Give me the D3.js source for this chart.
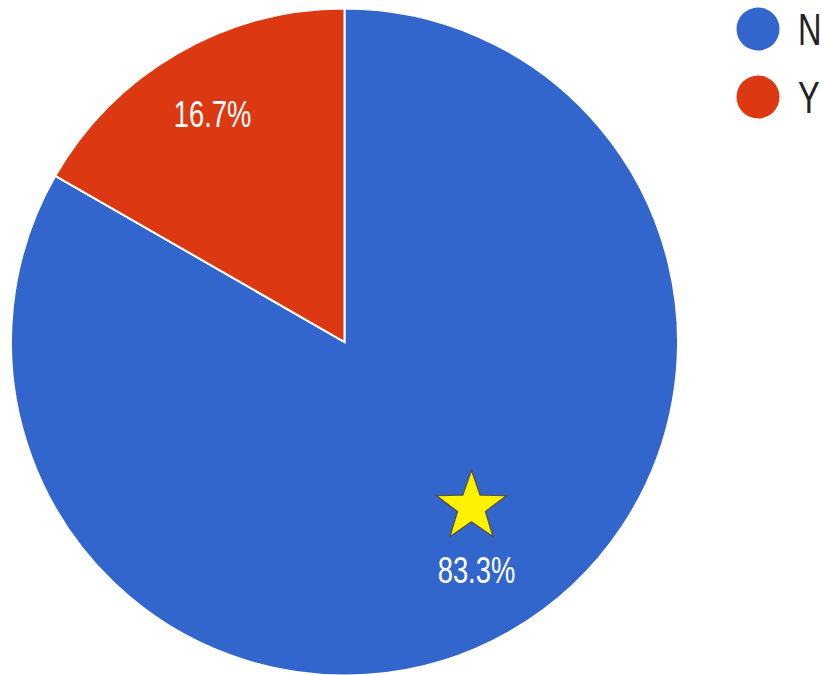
<!DOCTYPE html>
<html>
<head>
<meta charset="utf-8">
<script src="https://cdn.jsdelivr.net/npm/d3@7"></script>
<style>
  html, body { margin: 0; padding: 0; background: #fff; }
  svg { display: block; }
  text { font-family: "Liberation Sans", Arial, sans-serif; }
</style>
</head>
<body>
<svg id="chart" width="822" height="675"></svg>
<script>
// Answer categories and their shares (percent)
const categories = ["N", "Y"];
const values = [83.3, 16.7];
const colors = ["#3366CC", "#DC3912"];
// Slice that carries the star marker
const starredCategory = "N";

const cx = 344.5, cy = 342, radius = 333.5;
const labelRadius = radius * 0.79;
const squeeze = 0.74; // narrow text rendering

const svg = d3.select("#chart");

const data = categories.map((c, i) => ({ category: c, value: values[i] }));
const color = d3.scaleOrdinal().domain(categories).range(colors);

const pie = d3.pie().value(d => d.value).sort(null);
const arcs = pie(data);
const arc = d3.arc().innerRadius(0).outerRadius(radius);
const labelArc = d3.arc().innerRadius(labelRadius).outerRadius(labelRadius);

const g = svg.append("g").attr("transform", `translate(${cx},${cy})`);

g.selectAll("path.slice")
  .data(arcs)
  .join("path")
  .attr("class", "slice")
  .attr("d", arc)
  .attr("fill", d => color(d.data.category))
  .attr("stroke", "#fff")
  .attr("stroke-width", 2);

// Percentage labels
const labelSize = 37;
g.selectAll("text.pct")
  .data(arcs)
  .join("text")
  .attr("class", "pct")
  .attr("transform", d => {
    const [x, y] = labelArc.centroid(d);
    return `translate(${x},${y + labelSize * 0.716 / 2}) scale(${squeeze},1)`;
  })
  .attr("text-anchor", "middle")
  .attr("fill", "#fff")
  .attr("font-size", labelSize)
  .text(d => d.data.value.toFixed(1) + "%");

// Five-pointed star path centred on the origin
function starPath(outer, inner) {
  const pts = [];
  for (let i = 0; i < 10; i++) {
    const r = i % 2 === 0 ? outer : inner;
    const a = i * Math.PI / 5;
    pts.push([r * Math.sin(a), -r * Math.cos(a)]);
  }
  return "M" + pts.map(p => p.join(",")).join("L") + "Z";
}

// Star marker above the starred slice's label
const starArc = arcs.find(a => a.data.category === starredCategory);
const [sx, sy] = labelArc.centroid(starArc);
const starR = 37;
g.append("path")
  .attr("transform", `translate(${sx - 5},${sy - 63})`)
  .attr("d", starPath(starR, starR * 0.4))
  .attr("fill", "#FFF200")
  .attr("stroke", "#555")
  .attr("stroke-width", 1.5)
  .attr("stroke-linejoin", "miter");

// Legend
const legendX = 758, legendY = 29, legendStep = 68, legendFont = 44;
const legend = svg.append("g");
const items = legend.selectAll("g.item")
  .data(categories)
  .join("g")
  .attr("class", "item")
  .attr("transform", (d, i) => `translate(${legendX},${legendY + i * legendStep})`);
items.append("circle")
  .attr("r", 21.5)
  .attr("fill", d => color(d));
items.append("text")
  .attr("transform", `translate(40,${legendFont * 0.716 / 2}) scale(${squeeze},1)`)
  .attr("font-size", legendFont)
  .attr("fill", "#222")
  .text(d => d);
</script>
</body>
</html>
